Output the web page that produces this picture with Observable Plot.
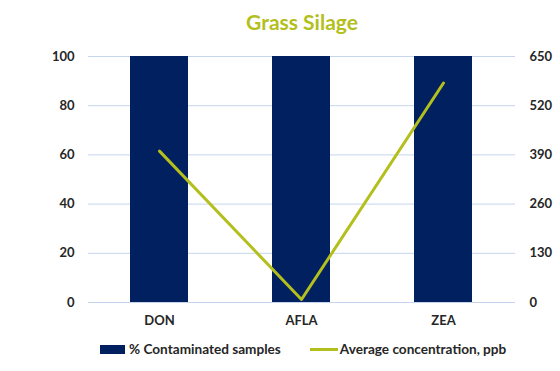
<!DOCTYPE html>
<html>
<head>
<meta charset="utf-8">
<script src="https://cdn.jsdelivr.net/npm/d3@7"></script>
<script src="https://cdn.jsdelivr.net/npm/@observablehq/plot@0.6"></script>
<style>
  body { margin: 0; background: #fff; font-family: Lato, "Open Sans", sans-serif; }
  #wrap { position: relative; width: 560px; height: 371px; overflow: hidden; }
  #title { position: absolute; top: 9px; left: 0; width: 604px; text-align: center; font-weight: bold; font-size: 21px; color: #b3bf1c; }
  #chart { position: absolute; top: 44px; left: 0; }
  #legend { position: absolute; top: 341px; left: 100px; font-size: 13.6px; font-weight: bold; color: #262626; display: flex; align-items: center; white-space: nowrap; }
  .sw-bar { display: inline-block; width: 25px; height: 9px; background: #002060; margin-right: 4px; }
  .sw-line { display: inline-block; width: 28px; height: 3px; background: #b3bf1c; margin-right: 2px; margin-left: 29px; }
</style>
</head>
<body>
<div id="wrap">
  <div id="title">Grass Silage</div>
  <div id="chart"></div>
  <div id="legend"><span class="sw-bar"></span><span>% Contaminated samples</span><span class="sw-line"></span><span>Average concentration, ppb</span></div>
</div>
<script>
const categories = ["DON", "AFLA", "ZEA"];
const contaminated = [100, 100, 100];
const concentration = [400, 8, 580];
const leftTicks = [0, 20, 40, 60, 80, 100];
const rightMax = 650;

const barData = categories.map((c, i) => ({cat: c, v: contaminated[i]}));
const lineData = categories.map((c, i) => ({cat: c, v: concentration[i] / rightMax * 100}));

const navy = "#002060";
const lime = "#b3bf1c";
const txt = "#262626";

const plot = Plot.plot({
  width: 560,
  height: 290,
  marginTop: 12,
  marginLeft: 88,
  marginRight: 45,
  marginBottom: 32,
  style: {fontFamily: "Lato, 'Open Sans', sans-serif", fontSize: "13px", fontWeight: "bold", color: txt, background: "#fff"},
  x: {domain: categories, paddingInner: 0.59, paddingOuter: 0.295, label: null},
  y: {domain: [0, 100], label: null},
  marks: [
    Plot.gridY(leftTicks, {stroke: "#c5d5ee", strokeOpacity: 1, strokeWidth: 1}),
    Plot.barY(barData, {x: "cat", y: "v", fill: navy}),
    Plot.line(lineData, {x: "cat", y: "v", stroke: lime, strokeWidth: 3}),
    Plot.axisY({ticks: leftTicks, anchor: "left", tickSize: 0, tickPadding: 14, label: null, fill: txt}),
    Plot.axisY({ticks: leftTicks, anchor: "right", tickSize: 0, tickPadding: 14, label: null, fill: txt, textAnchor: "start",
      tickFormat: d => String(Math.round(d / 100 * rightMax))}),
    Plot.axisX({anchor: "bottom", tickSize: 0, tickPadding: 13, label: null, fill: txt})
  ]
});
document.getElementById("chart").appendChild(plot);
</script>
</body>
</html>
